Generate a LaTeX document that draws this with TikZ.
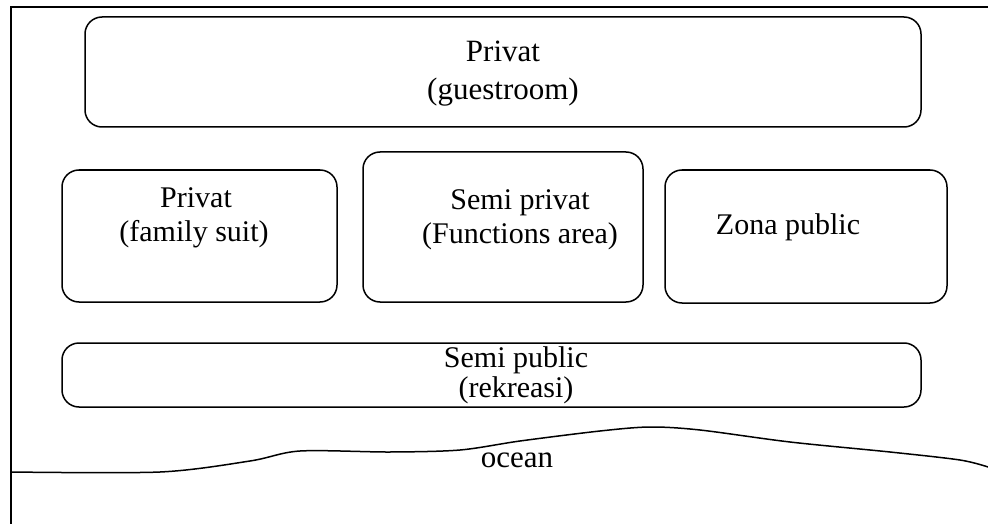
\documentclass[tikz,border=0pt]{standalone}
\usepackage{fontspec}
\setmainfont{Liberation Serif}
\begin{document}
\begin{tikzpicture}[x=1pt, y=-1pt, line width=1.5pt,
  zone/.style={draw, rounded corners=17pt, inner sep=0pt},
  lbl/.style={anchor=base, inner sep=0pt, font=\fontsize{30}{33}\selectfont},
  lblbig/.style={anchor=base, inner sep=0pt, font=\fontsize{31}{34}\selectfont}]
\useasboundingbox (0,0) rectangle (988,524);
% frame
\draw (988,7) -- (11,7) -- (11,524);
% zones
\node[zone, minimum width=836pt, minimum height=110pt] (guest) at (503,72){};
\node[zone, minimum width=275pt, minimum height=132pt] (family) at (199.5,236){};
\node[zone, minimum width=280pt, minimum height=150pt] (func) at (503,227){};
\node[zone, minimum width=282pt, minimum height=133pt] (zona) at (806,236.5){};
\node[zone, minimum width=859pt, minimum height=64pt] (rekre) at (491.5,375){};
% labels
\node[lblbig] (guestA) at (503,62){Privat};
\node[lblbig] (guestB) at (503,100){(guestroom)};
\node[lbl] (familyA) at (196,207){Privat};
\node[lbl] (familyB) at (194,241){(family suit)};
\node[lbl] (funcA) at (520,209){Semi privat};
\node[lbl] (funcB) at (520,243){(Functions area)};
\node[lbl] (zonaA) at (788,234){Zona public};
\node[lbl] (rekreA) at (516,367){Semi public};
\node[lbl] (rekreB) at (516,397){(rekreasi)};
\node[lblbig] (ocean) at (517,467){ocean};
% coast line
\draw plot[smooth, tension=0.5] coordinates {(11,472) (160,472) (250,461) (300,451)
  (390,452) (460,450) (520,441) (600,431) (650,427) (700,430) (790,442)
  (890,452) (960,460) (988,467)};
\end{tikzpicture}
\end{document}
